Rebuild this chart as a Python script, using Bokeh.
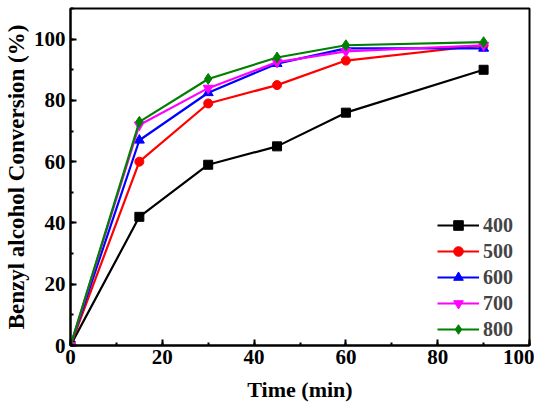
from bokeh.plotting import figure
from bokeh.models import SingleIntervalTicker, Range1d, Legend, LegendItem
from bokeh.embed import file_html
from bokeh.resources import INLINE

time = [0, 15, 30, 45, 60, 90]
s400 = [0, 42, 59, 65, 76, 90]
s500 = [0, 60, 79, 85, 93, 98]
s600 = [0, 67, 82.5, 92, 97, 97]
s700 = [0, 72, 84, 92.5, 96, 98]
s800 = [0, 73, 87, 94, 98, 99]
labels = ["400", "500", "600", "700", "800"]

FONT = "Liberation Serif"

p = figure(width=534, height=404, output_backend="svg", toolbar_location=None,
           x_range=Range1d(0, 100), y_range=Range1d(0, 110),
           min_border_left=69, min_border_right=5, min_border_top=8, min_border_bottom=58)
p.grid.visible = False
p.outline_line_color = "black"
p.outline_line_width = 2
p.background_fill_color = "white"

p.xaxis.ticker = SingleIntervalTicker(interval=20, num_minor_ticks=2)
p.yaxis.ticker = SingleIntervalTicker(interval=20, num_minor_ticks=2)
for ax in (p.xaxis, p.yaxis):
    ax.major_tick_in = 6
    ax.major_tick_out = 0
    ax.minor_tick_in = 3
    ax.minor_tick_out = 0
    ax.major_tick_line_width = 2
    ax.minor_tick_line_width = 2
    ax.axis_line_width = 2
    ax.major_label_text_font = FONT
    ax.major_label_text_font_style = "bold"
    ax.major_label_text_font_size = "21px"
    ax.major_label_text_color = "black"
    ax.axis_label_text_font = FONT
    ax.axis_label_text_font_style = "bold"
    ax.axis_label_text_color = "black"
p.xaxis.axis_label_text_font_size = "22px"
p.yaxis.axis_label_text_font_size = "23px"
p.xaxis.axis_label = "Time (min)"
p.yaxis.axis_label = "Benzyl alcohol Conversion (%)"
p.xaxis.axis_label_standoff = 10
p.yaxis.axis_label_standoff = 2
p.xaxis.major_label_standoff = 4
p.yaxis.major_label_standoff = 5

series = [s400, s500, s600, s700, s800]
colors = ["black", "red", "blue", "magenta", "green"]
markers = ["square", "circle", "triangle", "inverted_triangle", "diamond"]
sizes = [9, 9, 10, 10, 11]
items = []
for lab, ys, c, m, sz in zip(labels, series, colors, markers, sizes):
    r1 = p.line(time, ys, line_color=c, line_width=2.2)
    r2 = p.scatter(time, ys, marker=m, size=sz, fill_color=c, line_color=c)
    items.append(LegendItem(label=lab, renderers=[r1, r2]))

legend = Legend(items=items, location=(363, 0))
legend.background_fill_alpha = 0
legend.border_line_alpha = 0
legend.label_text_font = FONT
legend.label_text_font_style = "bold"
legend.label_text_font_size = "20px"
legend.glyph_width = 42
legend.glyph_height = 24
legend.label_height = 24
legend.spacing = 2
legend.margin = 0
legend.padding = 4
legend.label_standoff = 4
p.add_layout(legend)

open("out.html", "w").write(file_html(p, INLINE))
